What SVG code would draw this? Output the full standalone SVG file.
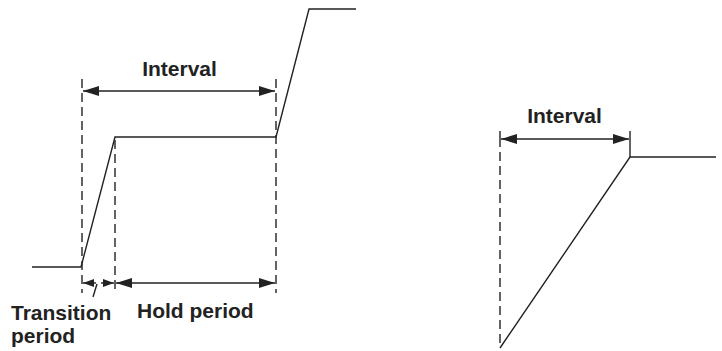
<svg xmlns="http://www.w3.org/2000/svg" width="722" height="351" viewBox="0 0 722 351">
<defs>
<marker id="ah" viewBox="0 0 16 10" refX="16" refY="5" markerWidth="16" markerHeight="10" markerUnits="userSpaceOnUse" orient="auto-start-reverse">
<path d="M0,0 L16,5 L0,10 Z" fill="#222"/>
</marker>
<marker id="ahs" viewBox="0 0 11 8" refX="11" refY="4" markerWidth="11" markerHeight="8" markerUnits="userSpaceOnUse" orient="auto">
<path d="M0,0 L11,4 L0,8 Z" fill="#222"/>
</marker>
</defs>
<style>
.ln{stroke:#222;stroke-width:1.4;fill:none}
.ds{stroke:#222;stroke-width:1.4;fill:none;stroke-dasharray:9,5}
.ar{stroke:#222;stroke-width:1.4;fill:none;marker-start:url(#ah);marker-end:url(#ah)}
.ar1{stroke:#222;stroke-width:1.4;fill:none;marker-end:url(#ahs)}
text{font-family:"Liberation Sans",Arial,sans-serif;font-weight:bold;font-size:21px;fill:#222}
</style>
<g id="left-signal">
<polyline class="ln" points="32,267 81,267 115,137 276,137 309,9 356,9"/>
</g>
<g id="left-guides">
<line class="ds" x1="82" y1="79" x2="82" y2="293"/>
<line class="ds" x1="276" y1="79" x2="276" y2="293"/>
<line class="ds" x1="115" y1="140" x2="115" y2="293"/>
</g>
<g id="connectors">
<line class="ar" x1="83" y1="91" x2="275" y2="91"/>
<line class="ar" x1="116" y1="283" x2="275" y2="283"/>
<line class="ar1" x1="96" y1="283" x2="83" y2="283"/>
<line class="ar1" x1="101" y1="283" x2="114" y2="283"/>
<line class="ln" x1="93" y1="297" x2="97" y2="284"/>
<line class="ar" x1="501" y1="139" x2="629" y2="139"/>
</g>
<g id="labels-left">
<text x="179.5" y="76" text-anchor="middle">Interval</text>
<text x="11" y="320">Transition</text>
<text x="11" y="343">period</text>
<text x="137" y="318">Hold period</text>
</g>
<g id="right-signal">
<polyline class="ln" points="500,348 630,157 716,157"/>
<line class="ln" x1="630" y1="131" x2="630" y2="157"/>
<line class="ln" x1="500" y1="131" x2="500" y2="147"/>
<line class="ds" x1="500" y1="152" x2="500" y2="348"/>
<text x="564.5" y="123" text-anchor="middle">Interval</text>
</g>
</svg>
